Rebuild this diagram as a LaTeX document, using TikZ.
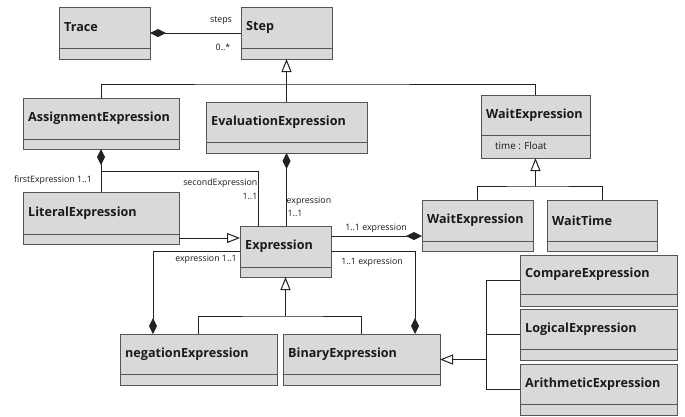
\documentclass[tikz,border=0pt]{standalone}
\usepackage{fontspec}
\setmainfont{Open Sans}
\usetikzlibrary{arrows.meta,calc}
\definecolor{boxfill}{HTML}{D9D9D9}
\definecolor{boxc}{HTML}{555555}
\definecolor{linec}{HTML}{222222}
\definecolor{txtc}{HTML}{1A1A1A}
\newcommand\ttlfont{\bfseries\fontsize{12.6}{14}\selectfont}
\newcommand\lblfont{\fontsize{8.8}{10}\selectfont}
\newcommand\umlclass[7]{%
  \node[cls, minimum width={(#4-#2)*1pt}, minimum height={(#5-#3)*1pt}, anchor=north west] (#1) at (#2,#3) {};
  \draw[divline] (#2,#6) -- (#4,#6);
  \node[ttl, anchor=west] (#1t) at ({#2+5},{(#3+#6)/2}) {#7};
}
\tikzset{
  cls/.style={draw=boxc, fill=boxfill, line width=0.9pt, inner sep=0pt, outer sep=0pt},
  divline/.style={draw=boxc, line width=0.9pt},
  conn/.style={draw=linec, line width=1pt},
  gen/.style={conn, -{Triangle[open, length=13pt, width=10pt, fill=white]}},
  comp/.style={conn, {Diamond[length=16pt, width=8pt]}-},
  lbl/.style={font=\lblfont, inner sep=0.5pt, text=txtc},
  ttl/.style={font=\ttlfont, inner sep=0pt, text=txtc},
}
\begin{document}
\begin{tikzpicture}[x=1pt,y=-1pt]
\useasboundingbox[fill=white] (0,0) rectangle (685,416);
% classes
\umlclass{trace}{59}{7}{150}{59}{48}{Trace}
\umlclass{step}{241}{7}{332}{59}{48}{Step}
\umlclass{assign}{23}{98}{179}{149}{139}{AssignmentExpression}
\umlclass{eval}{206}{102}{367}{153}{142}{EvaluationExpression}
\umlclass{wait}{481}{95}{590}{158}{135}{WaitExpression}
\node[font=\fontsize{9.8}{11}\selectfont, text=txtc, anchor=west, inner sep=0pt] (waitattr) at (495,146) {time : Float};
\umlclass{literal}{23}{192}{179}{244}{234}{LiteralExpression}
\umlclass{expr}{240}{226}{331}{277}{267}{Expression}
\umlclass{waitx}{422}{200}{533}{251}{241}{WaitExpression}
\umlclass{waittime}{547}{200}{657}{251}{241}{WaitTime}
\umlclass{neg}{120}{334}{277}{385}{374}{negationExpression}
\umlclass{binary}{283}{334}{440}{385}{374}{BinaryExpression}
\umlclass{cmp}{520}{255}{677}{306}{294}{CompareExpression}
\umlclass{logic}{520}{309}{677}{360}{349}{LogicalExpression}
\umlclass{arith}{520}{364}{677}{415}{404}{ArithmeticExpression}
% Trace - Step
\draw[comp] (trace.east) -- (step.west);
\node[lbl] (lsteps) at (221,21) {steps};
\node[lbl] (lmult) at (223,47) {0..*};
% Step generalization
\coordinate (jstep) at (286.5,84);
\draw[conn] (assign.north) |- (jstep) -| (wait.north);
\draw[gen] (eval.north) -- (step.south);
% Assignment compositions
\coordinate (jassign) at (101,171);
\draw[comp] (assign.south) -- (literal.north);
\draw[conn] (jassign) -| ([xshift=18pt]expr.north west);
\node[lbl, anchor=center] (lfirst) at (53,180) {firstExpression 1..1};
\node[lbl, anchor=east] (lsecond) at (258,183) {secondExpression};
\node[lbl, anchor=east] (lsecondm) at (258,196) {1..1};
% Evaluation composition
\draw[comp] (eval.south) -- (eval.south |- expr.north);
\node[lbl, anchor=west] (levalr) at (286,201) {expression};
\node[lbl, anchor=west] (levalm) at (287,213) {1..1};
% Literal generalization
\draw[gen] ([yshift=-20pt]literal.east) -- ([yshift=-20pt]literal.east -| expr.west);
% Expression - WaitExpression
\draw[comp] ([yshift=-10.5pt]waitx.west) -- ([yshift=-10.5pt]waitx.west -| expr.east);
\node[lbl] (lwait) at (376,228) {1..1 expression};
% Expression - negation
\draw[comp] ([xshift=33pt]neg.north west) |- (expr.west);
\node[lbl] (lneg) at (206,259) {expression 1..1};
% Expression - binary
\draw[comp] ([xshift=-25pt]binary.north east) |- (expr.east);
\node[lbl] (lbin) at (372,262) {1..1 expression};
% Expression generalization
\coordinate (jexpr) at (285.5,316);
\draw[conn] (neg.north) |- (jexpr) -| (binary.north);
\draw[gen] (jexpr) -- (expr.south);
% Wait generalization
\coordinate (jwait) at (535.5,186);
\draw[conn] (waitx.north) |- (jwait) -| (waittime.north);
\draw[gen] (jwait) -- (wait.south);
% Binary generalization
\coordinate (jbin) at (486,359.5);
\draw[conn] (cmp.west) -| (jbin);
\draw[conn] (arith.west) -| (jbin);
\draw[conn] (logic.west) -| (jbin);
\draw[gen] (jbin) -- (binary.east);
\end{tikzpicture}
\end{document}
